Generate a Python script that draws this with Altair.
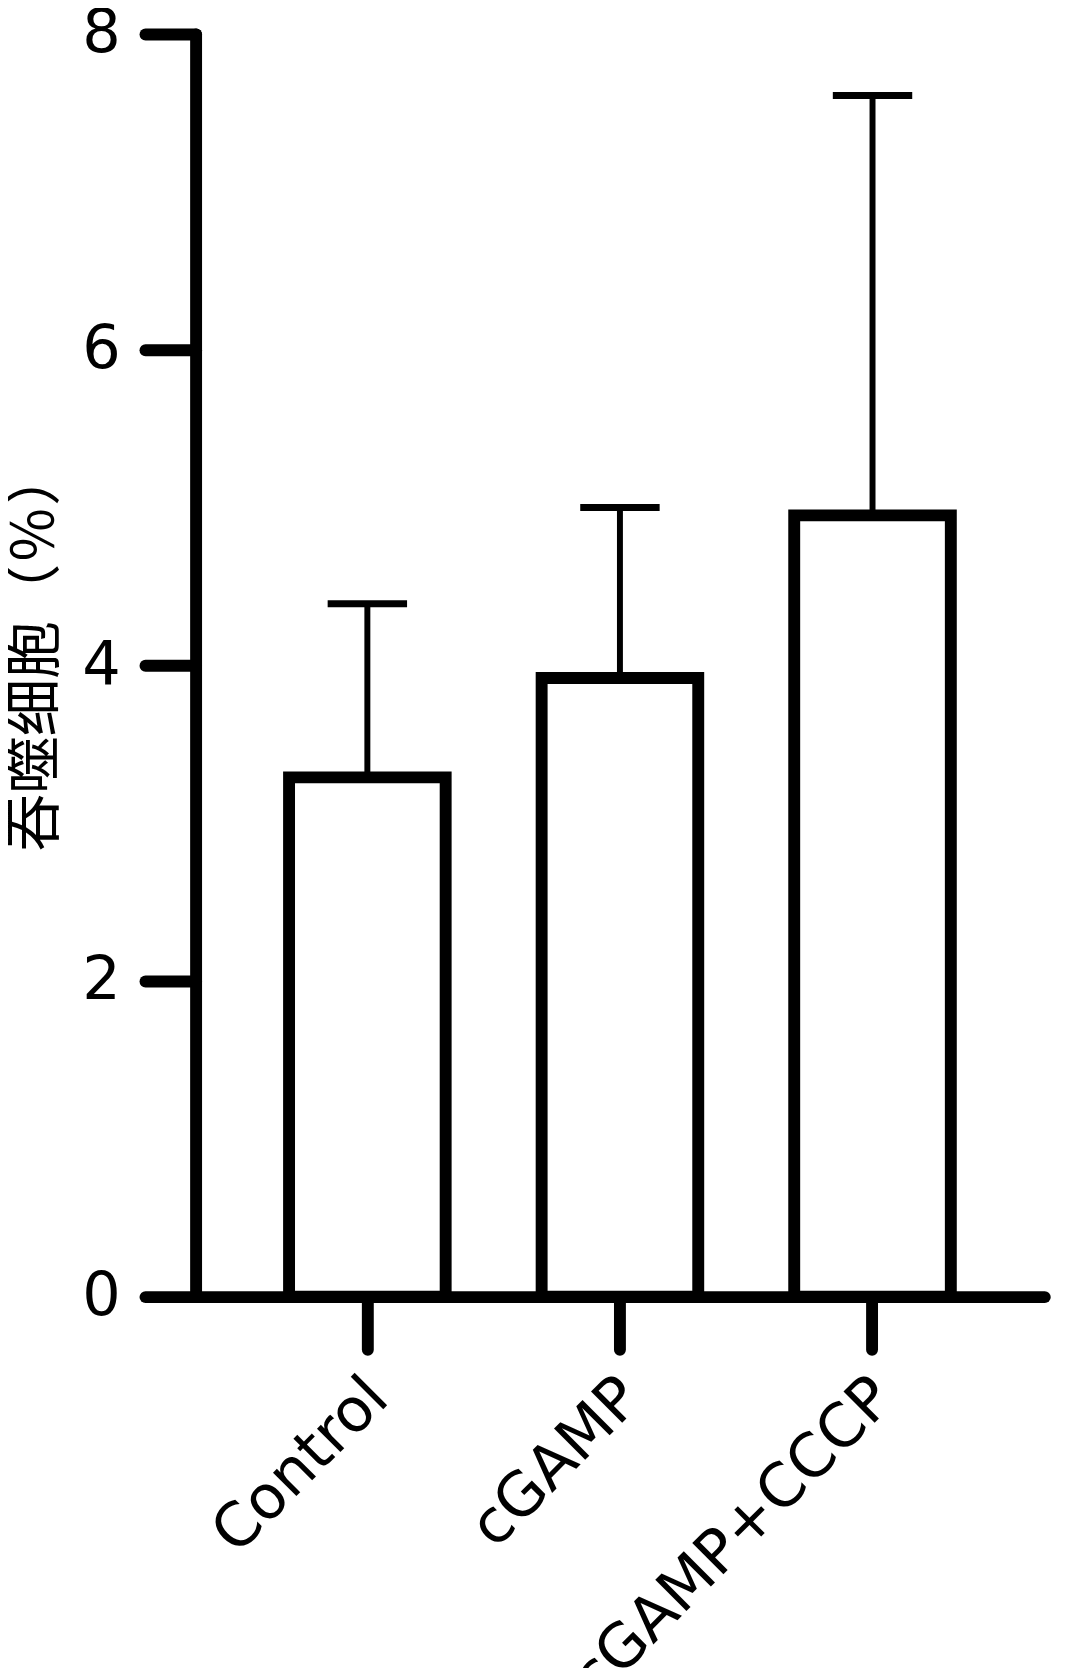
import altair as alt
import pandas as pd

groups = ["Control", "cGAMP", "cGAMP+CCCP"]
means = [3.29, 3.92, 4.95]
uppers = [4.39, 5.00, 7.61]
y_ticks = [0, 2, 4, 6, 8]

df = pd.DataFrame({"group": groups, "mean": means, "upper": uppers})

W, H = 855, 1272

x_axis = alt.Axis(
    title=None,
    grid=False,
    labelAngle=-45,
    labelFont="DejaVu Sans",
    labelFontSize=61,
    labelColor="black",
    labelPadding=18,
    labelOffset=-10,
    labelLimit=0,
    domainColor="black",
    domainWidth=12,
    domainCap="round",
    tickColor="black",
    tickWidth=12,
    tickSize=53,
    tickCap="round",
    zindex=1,
)

y_axis = alt.Axis(
    values=y_ticks,
    format="d",
    grid=False,
    title="吞噬细胞（％）",
    titleFont="Noto Sans CJK SC",
    titleFontSize=58,
    titleFontWeight="normal",
    titleColor="black",
    titleX=-160,
    titleY=H / 2 - 16,
    titleBaseline="middle",
    labelFont="DejaVu Sans",
    labelFontSize=61,
    labelColor="black",
    labelPadding=25,
    labelLimit=0,
    domainColor="black",
    domainWidth=12,
    domainCap="round",
    tickColor="black",
    tickWidth=12,
    tickSize=51,
    tickCap="round",
    zindex=1,
)

x_scale = alt.Scale(paddingInner=0.38, paddingOuter=0.37)
y_scale = alt.Scale(domain=[0, 8], nice=False, zero=True)

bars = alt.Chart(df).mark_bar(fill="white", stroke="black", strokeWidth=12).encode(
    x=alt.X("group:N", sort=groups, scale=x_scale, axis=x_axis),
    y=alt.Y("mean:Q", scale=y_scale, axis=y_axis),
)

stems = alt.Chart(df).mark_rule(color="black", strokeWidth=6, opacity=1).encode(
    x=alt.X("group:N", sort=groups, axis=x_axis),
    y=alt.Y("mean:Q", axis=y_axis),
    y2="upper:Q",
)

caps = alt.Chart(df).mark_tick(color="black", thickness=7, size=80, opacity=1).encode(
    x=alt.X("group:N", sort=groups, axis=x_axis),
    y=alt.Y("upper:Q", axis=y_axis),
)

chart = (
    alt.layer(bars, stems, caps)
    .properties(
        width=W,
        height=H,
        autosize=alt.AutoSizeParams(type="none"),
        padding={"left": 189, "top": 20, "right": 38, "bottom": 380},
        view=alt.ViewBackground(stroke="transparent", strokeWidth=0),
    )
    .configure_view(strokeWidth=0, stroke="transparent")
    .configure_axis(grid=False)
    .configure_axisX(grid=False)
    .configure_axisY(grid=False)
    .configure(background="white")
)

chart.save("out.html", embed_options={"renderer": "svg", "actions": False})
